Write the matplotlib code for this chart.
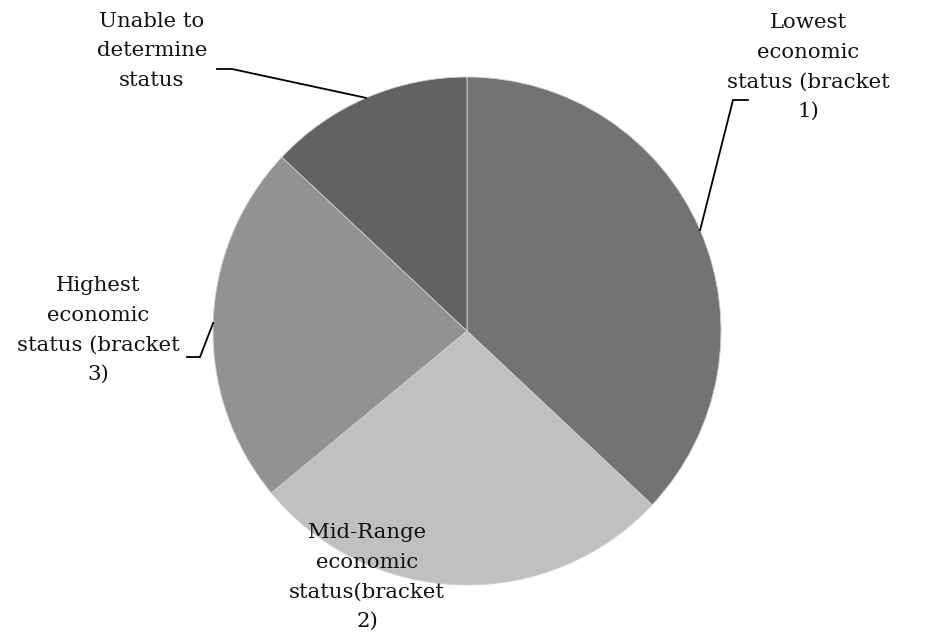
import matplotlib
matplotlib.use("Agg")
import matplotlib.pyplot as plt
import numpy as np

# Shares by economic status, clockwise from 12 o'clock
labels = [
    "Lowest\neconomic\nstatus (bracket\n1)",
    "Mid-Range\neconomic\nstatus(bracket\n2)",
    "Highest\neconomic\nstatus (bracket\n3)",
    "Unable to\ndetermine\nstatus",
]
values = [37, 27, 23, 13]
colors = ["#737373", "#c0c0c0", "#929292", "#626262"]

W, H = 928, 637
CX, CY, R = 467, H - 331, 254

fig = plt.figure(figsize=(W / 100, H / 100), dpi=100)
ax = fig.add_axes([0, 0, 1, 1])
wedges, _ = ax.pie(values, center=(CX, CY), radius=R, startangle=90,
                   counterclock=False, colors=colors,
                   wedgeprops=dict(edgecolor="#d0d0d0", linewidth=0.6))
ax.set_xlim(0, W)
ax.set_ylim(0, H)
ax.set_aspect("equal")
ax.axis("off")

font = dict(family="DejaVu Serif", fontsize=15.3, color="#111111",
            ha="center", va="center", linespacing=1.72)

# label centres and leader elbows (x of the short horizontal stub)
label_pos = [(808, H - 67), (367, H - 577), (98, H - 330), (152, H - 51)]
stubs = [(748, 733, H - 100), None, (187, 200, H - 357), (217, 232, H - 69)]

for w, txt, pos, stub in zip(wedges, labels, label_pos, stubs):
    ax.text(pos[0], pos[1], txt, **font)
    if stub is None:
        continue
    mid = np.deg2rad((w.theta1 + w.theta2) / 2)
    ex, ey = CX + R * np.cos(mid), CY + R * np.sin(mid)
    x0, x1, y = stub
    ax.plot([x0, x1, ex], [y, y, ey], color="black", lw=1.3,
            solid_joinstyle="miter")

fig.savefig("out.png", dpi=100, facecolor="white")
